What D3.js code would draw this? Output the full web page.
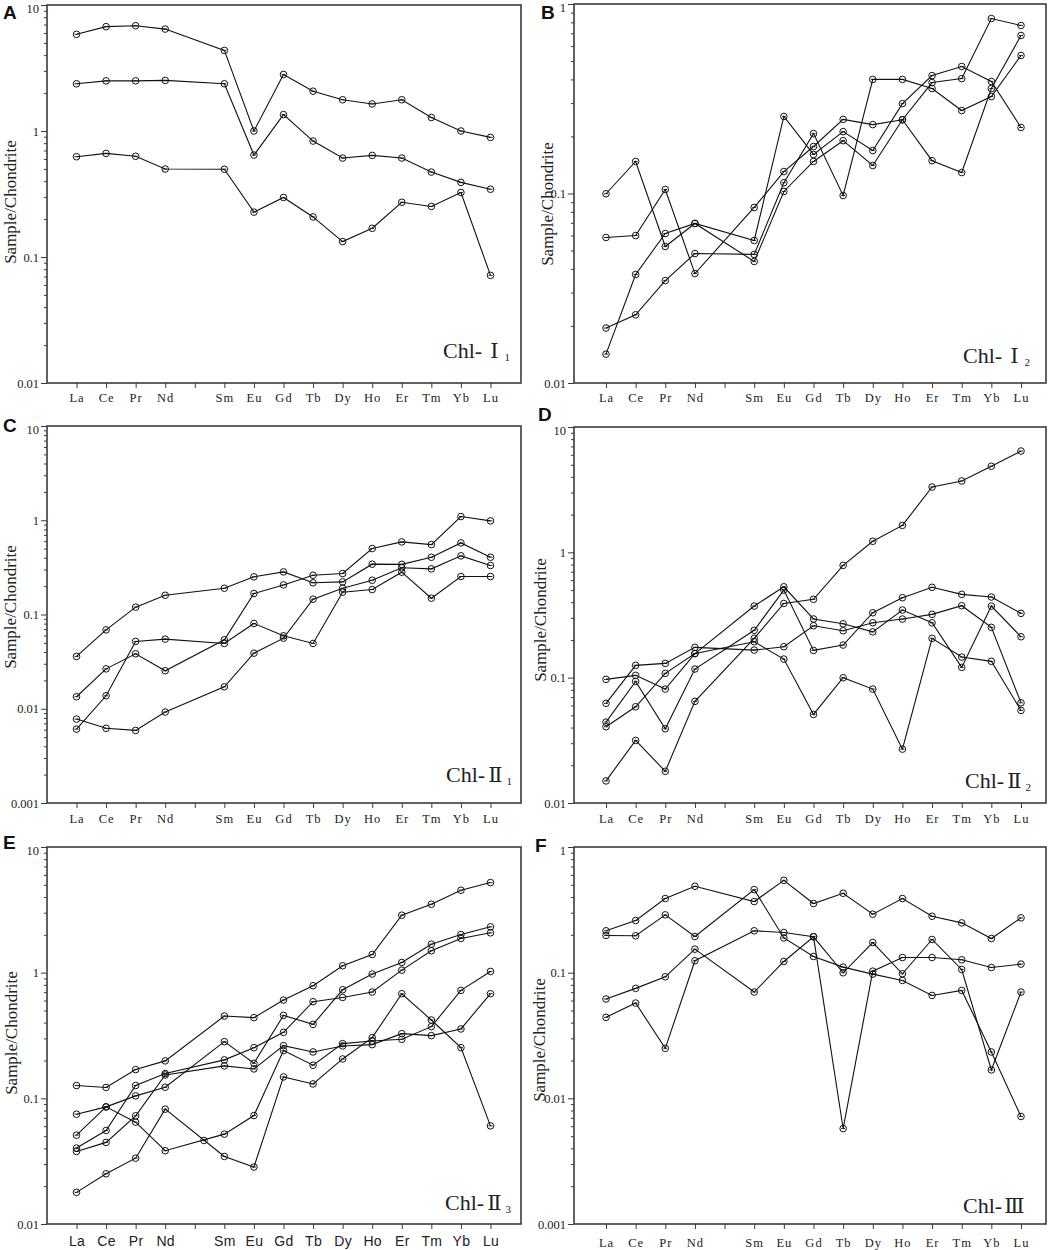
<!DOCTYPE html>
<html><head><meta charset="utf-8">
<script src="https://cdnjs.cloudflare.com/ajax/libs/d3/7.8.5/d3.min.js"></script>
<style>
html,body{margin:0;padding:0;background:#fff;}
svg{display:block;}
</style></head><body>
<svg id="chart" width="1052" height="1250"></svg>
<script>
// ---------- categories ----------
const tickLabels = ["La","Ce","Pr","Nd","","Sm","Eu","Gd","Tb","Dy","Ho","Er","Tm","Yb","Lu"];
const elements   = ["La","Ce","Pr","Nd","Sm","Eu","Gd","Tb","Dy","Ho","Er","Tm","Yb","Lu"];

// ---------- y tick values ----------
const yTicksA = [10, 1, 0.1, 0.01];
const yTicksB = [1, 0.1, 0.01];
const yTicksC = [10, 1, 0.1, 0.01, 0.001];
const yTicksD = [10, 1, 0.1, 0.01];
const yTicksE = [10, 1, 0.1, 0.01];
const yTicksF = [1, 0.1, 0.01, 0.001];

// ---------- series values (Sample/Chondrite) ----------
const valuesA = [
  [5.85, 6.73, 6.85, 6.44, 4.36, 1.0, 2.81, 2.07, 1.77, 1.64, 1.77, 1.28, 1.0, 0.89],
  [2.37, 2.50, 2.50, 2.52, 2.37, 0.644, 1.35, 0.832, 0.61, 0.64, 0.61, 0.472, 0.391, 0.345],
  [0.625, 0.664, 0.63, 0.499, 0.497, 0.227, 0.297, 0.208, 0.1325, 0.169, 0.272, 0.252, 0.325, 0.0715]
];
const valuesB = [
  [0.0997, 0.1476, 0.0525, 0.0695, 0.0565, 0.255, 0.1607, 0.212, 0.1686, 0.298, 0.419, 0.468, 0.390, 0.223],
  [0.0586, 0.060, 0.105, 0.0378, 0.0844, 0.1306, 0.177, 0.246, 0.231, 0.245, 0.149, 0.129, 0.358, 0.682],
  [0.0142, 0.0374, 0.0615, 0.0695, 0.0438, 0.1025, 0.1476, 0.19, 0.1405, 0.245, 0.385, 0.404, 0.838, 0.77],
  [0.0195, 0.0229, 0.0347, 0.0482, 0.0477, 0.114, 0.207, 0.0976, 0.40, 0.40, 0.358, 0.274, 0.325, 0.535]
];
const valuesC = [
  [0.0359, 0.0687, 0.1197, 0.160, 0.190, 0.251, 0.283, 0.217, 0.222, 0.342, 0.34, 0.405, 0.575, 0.405],
  [0.0134, 0.0265, 0.0383, 0.0253, 0.0539, 0.167, 0.206, 0.261, 0.272, 0.501, 0.589, 0.552, 1.094, 0.984],
  [0.00608, 0.01374, 0.0518, 0.0548, 0.0493, 0.0803, 0.0594, 0.0493, 0.1726, 0.184, 0.281, 0.149, 0.253, 0.253],
  [0.00777, 0.0062, 0.00589, 0.00922, 0.0171, 0.0389, 0.0561, 0.1455, 0.190, 0.231, 0.313, 0.305, 0.419, 0.331]
];
const valuesD = [
  [0.0150, 0.0316, 0.0179, 0.0647, 0.206, 0.391, 0.422, 0.787, 1.225, 1.64, 3.32, 3.71, 4.86, 6.43],
  [0.0969, 0.1043, 0.0811, 0.1557, 0.3726, 0.531, 0.294, 0.269, 0.232, 0.3465, 0.274, 0.1208, 0.3726, 0.212],
  [0.0624, 0.1254, 0.130, 0.1746, 0.166, 0.1766, 0.2596, 0.2367, 0.274, 0.2937, 0.32, 0.375, 0.252, 0.063],
  [0.0442, 0.0934, 0.0391, 0.1172, 0.2387, 0.50, 0.165, 0.182, 0.3296, 0.4345, 0.526, 0.462, 0.44, 0.326],
  [0.0406, 0.0586, 0.1082, 0.1557, 0.1935, 0.1407, 0.0509, 0.0998, 0.0811, 0.0269, 0.206, 0.146, 0.135, 0.0548]
];
const valuesE = [
  [0.1264, 0.122, 0.1694, 0.1986, 0.4519, 0.4385, 0.6053, 0.787, 1.135, 1.396, 2.866, 3.505, 4.53, 5.21],
  [0.0748, 0.0855, 0.1046, 0.1226, 0.2825, 0.1901, 0.457, 0.388, 0.731, 0.975, 1.205, 1.686, 2.013, 2.316],
  [0.0402, 0.0555, 0.1264, 0.1574, 0.2023, 0.253, 0.335, 0.587, 0.635, 0.701, 1.047, 1.493, 1.871, 2.075],
  [0.0378, 0.0446, 0.0726, 0.1535, 0.1811, 0.1714, 0.2626, 0.234, 0.2612, 0.2675, 0.327, 0.3153, 0.3565, 0.68],
  [0.0509, 0.0855, 0.0646, 0.0383, 0.0519, 0.073, 0.2399, 0.1834, 0.2725, 0.2858, 0.2951, 0.3719, 0.7227, 1.023],
  [0.01786, 0.0251, 0.0334, 0.082, 0.0345, 0.0284, 0.148, 0.1302, 0.2058, 0.304, 0.68, 0.42, 0.253, 0.0604]
];
// an extra plotted symbol in panel E, between Nd and Sm (position in category units)
const extraPositionsE = [5.31];
const extraValuesE = [0.0462];
const valuesF = [
  [0.2153, 0.26, 0.389, 0.487, 0.368, 0.543, 0.355, 0.4285, 0.292, 0.389, 0.281, 0.249, 0.187, 0.273],
  [0.1977, 0.1965, 0.2884, 0.194, 0.458, 0.189, 0.1346, 0.1107, 0.0974, 0.0867, 0.0659, 0.0722, 0.0234, 0.00717],
  [0.0617, 0.075, 0.0927, 0.1538, 0.0701, 0.1228, 0.193, 0.0998, 0.1738, 0.098, 0.1837, 0.106, 0.01683, 0.0701],
  [0.0441, 0.0573, 0.025, 0.1244, 0.2153, 0.2088, 0.193, 0.00575, 0.1028, 0.132, 0.132, 0.1266, 0.110, 0.117]
];

// ---------- panel names ----------
const panelLetters = ["A","B","C","D","E","F"];
const panelTagsMain = ["Chl-","Chl-","Chl-","Chl-","Chl-","Chl-"];
const panelTagsRoman = ["Ⅰ","Ⅰ","Ⅱ","Ⅱ","Ⅱ","Ⅲ"];
const panelTagsSub = ["1","2","1","2","3",""];
const yTitle = "Sample/Chondrite";

// ---------- layout ----------
const layout = [
  {vals: valuesA, ticks: yTicksA, l:47,  t:5,   r:521,  b:383,  laX:76.5, luX:490.5, letter:[3,19],   title:[10,202],  xBase:402,  sans:false, tag:[443,358],  gap:[8,6]},
  {vals: valuesB, ticks: yTicksB, l:574, t:4,   r:1046, b:383,  laX:606,  luX:1021,  letter:[541,19], title:[547,204], xBase:402,  sans:false, tag:[963,363],  gap:[8,6]},
  {vals: valuesC, ticks: yTicksC, l:47,  t:426, r:521,  b:803,  laX:76.5, luX:490.5, letter:[3,432],  title:[10,607],  xBase:823,  sans:false, tag:[446,782],  gap:[3,4]},
  {vals: valuesD, ticks: yTicksD, l:574, t:427, r:1046, b:803,  laX:606,  luX:1021,  letter:[538,421],title:[540,620], xBase:823,  sans:false, tag:[965,788],  gap:[3,4]},
  {vals: valuesE, ticks: yTicksE, l:47,  t:847, r:521,  b:1224, laX:76.5, luX:490.5, letter:[3,849],  title:[11,1033], xBase:1246, sans:true,  tag:[445,1210], gap:[3,4], extra:true},
  {vals: valuesF, ticks: yTicksF, l:574, t:847, r:1046, b:1224, laX:606,  luX:1021,  letter:[535,852],title:[539,1040],xBase:1247, sans:false, tag:[963,1213], gap:[2,4]}
];

const SERIF = "'Liberation Serif','Times New Roman',serif";
const SANS = "'Liberation Sans',Arial,sans-serif";
const frameColor = "#3b3b3b";

const svg = d3.select("#chart");

layout.forEach((p, pi) => {
  const g = svg.append("g");
  const x = d3.scaleLinear().domain([1, 15]).range([p.laX, p.luX]);
  const yMax = d3.max(p.ticks), yMin = d3.min(p.ticks);
  const y = d3.scaleLog().domain([yMin, yMax]).range([p.b, p.t]);

  // minor ticks
  const minors = [];
  for (let d = yMin; d < yMax * 0.999; d *= 10) {
    for (let k = 2; k <= 9; k++) minors.push(d * k);
  }
  const minorAxis = d3.axisLeft(y).tickValues(minors).tickSize(3).tickFormat("");
  const gm = g.append("g").attr("transform", `translate(${p.l},0)`).call(minorAxis);
  gm.select(".domain").remove();
  gm.selectAll("line").attr("stroke", frameColor).attr("stroke-width", 1);

  // major ticks
  const majorAxis = d3.axisLeft(y).tickValues(p.ticks).tickSize(6).tickPadding(2)
    .tickFormat(v => String(v));
  const ga = g.append("g").attr("transform", `translate(${p.l},0)`).call(majorAxis);
  ga.select(".domain").remove();
  ga.selectAll("line").attr("stroke", frameColor).attr("stroke-width", 1);
  ga.selectAll("text").attr("font-family", SERIF).attr("font-size", 12.5).attr("fill", "#222")
    .attr("dy", v => v === yMax ? "0.62em" : "0.32em");

  // x axis
  const xFont = p.sans ? 14 : 12.5;
  const pad = (p.xBase - p.b) - 5 - 0.71 * xFont;
  const xAxis = d3.axisBottom(x).tickValues(d3.range(1, 16)).tickSize(5).tickPadding(pad)
    .tickFormat(i => tickLabels[i - 1]);
  const gx = g.append("g").attr("transform", `translate(0,${p.b})`).call(xAxis);
  gx.select(".domain").remove();
  gx.selectAll("line").attr("stroke", frameColor).attr("stroke-width", 1);
  gx.selectAll("text").attr("font-family", p.sans ? SANS : SERIF).attr("font-size", xFont)
    .attr("fill", "#222").attr("letter-spacing", p.sans ? 0.3 : 1);

  // frame
  g.append("rect").attr("x", p.l).attr("y", p.t)
    .attr("width", p.r - p.l).attr("height", p.b - p.t)
    .attr("fill", "none").attr("stroke", frameColor).attr("stroke-width", 1.6);

  // series
  const posOf = el => tickLabels.indexOf(el) + 1;
  const line = d3.line().x((d, i) => x(posOf(elements[i]))).y(d => y(d));
  p.vals.forEach(vals => {
    g.append("path").attr("d", line(vals)).attr("fill", "none")
      .attr("stroke", "#111").attr("stroke-width", 1.1);
  });
  const pts = [];
  p.vals.forEach(vals => vals.forEach((v, i) => pts.push([posOf(elements[i]), v])));
  if (p.extra) extraPositionsE.forEach((pos, i) => pts.push([pos, extraValuesE[i]]));
  const mk = g.selectAll(".mk").data(pts).enter().append("g")
    .attr("transform", d => `translate(${x(d[0])},${y(d[1])})`);
  mk.append("circle").attr("r", 3.3).attr("fill", "none").attr("stroke", "#111").attr("stroke-width", 1);
  mk.append("line").attr("x1", -2).attr("x2", 2).attr("y1", 0).attr("y2", 0)
    .attr("stroke", "#111").attr("stroke-width", 0.9);

  // y title
  g.append("text").attr("transform", `translate(${p.title[0]},${p.title[1]}) rotate(-90)`)
    .attr("text-anchor", "middle").attr("dominant-baseline", "central")
    .attr("font-family", SERIF).attr("font-size", 17).attr("fill", "#222").text(yTitle);

  // panel letter
  g.append("text").attr("x", p.letter[0]).attr("y", p.letter[1])
    .attr("font-family", SANS).attr("font-weight", "bold").attr("font-size", 19)
    .attr("fill", "#111").text(panelLetters[pi]);

  // tag
  const t = g.append("text").attr("x", p.tag[0]).attr("y", p.tag[1])
    .attr("font-family", SERIF).attr("font-size", 22).attr("fill", "#222");
  t.append("tspan").text(panelTagsMain[pi]);
  t.append("tspan").attr("dx", p.gap[0])
    .attr("font-family", "'DejaVu Serif','Liberation Serif','Noto Sans CJK SC',serif")
    .attr("font-size", 21).text(panelTagsRoman[pi]);
  if (panelTagsSub[pi]) {
    t.append("tspan").attr("font-size", 11).attr("dy", 3).attr("dx", p.gap[1]).text(panelTagsSub[pi]);
  }
});
</script>
</body></html>
